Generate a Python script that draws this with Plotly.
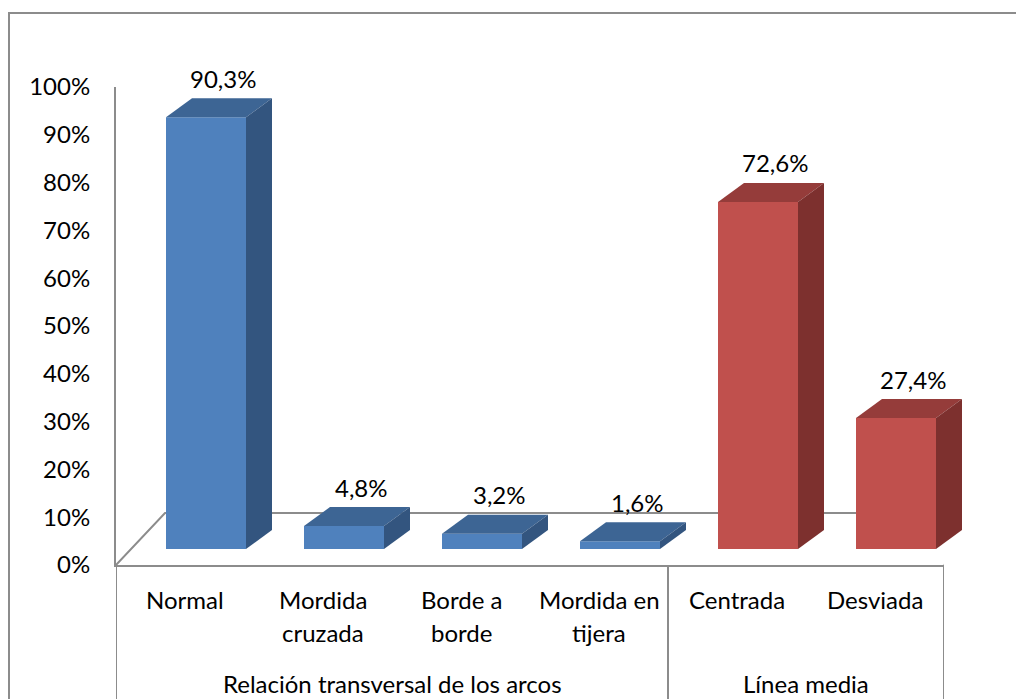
import plotly.graph_objects as go

# ---- data ----
categories = ["Normal", "Mordida<br>cruzada", "Borde a<br>borde", "Mordida en<br>tijera", "Centrada", "Desviada"]
groups = ["Relación transversal de los arcos", "Línea media"]
group_sizes = [4, 2]
values = [90.3, 4.8, 3.2, 1.6, 72.6, 27.4]
value_labels = ["90,3%", "4,8%", "3,2%", "1,6%", "72,6%", "27,4%"]
y_ticks = [0, 10, 20, 30, 40, 50, 60, 70, 80, 90, 100]
y_tick_labels = ["0%", "10%", "20%", "30%", "40%", "50%", "60%", "70%", "80%", "90%", "100%"]

# ---- styling / layout helpers ----
W, H = 1024, 699
OX, OY = 8, 8          # page offset of the figure (browser body margin)
FONT = "Lato"
FS = 24
front_colors = {0: "#4F81BD", 1: "#C0504D"}
top_colors = {0: "#3D6594", 1: "#953C3A"}
side_colors = {0: "#33557F", 1: "#7D302E"}
line_col = "#8C8C8C"

def px(x):
    return (x - OX) / W

def py(y):
    return 1 - (y - OY) / H

slot_px = (944 - 116) / 6.0
per_pct_px = (565 - 87) / 100.0
bar_w = 80 / slot_px
ddx = 26 / slot_px          # depth offset in category units
ddy = 19 / per_pct_px       # depth offset in % units

group_index = []
for g, n in enumerate(group_sizes):
    group_index += [g] * n

xs = list(range(len(categories)))
n = len(categories)

fig = go.Figure()
fig.add_trace(go.Bar(
    x=xs, y=values, xaxis="x2", yaxis="y2", width=bar_w,
    marker=dict(color=[front_colors[g] for g in group_index], line=dict(width=0)),
    hoverinfo="skip", showlegend=False,
))
fig.add_trace(go.Scatter(x=[xs[0]], y=[0], xaxis="x", yaxis="y", mode="markers",
                         marker=dict(opacity=0), hoverinfo="skip", showlegend=False))

shapes = []
annotations = []
for i, (v, g) in enumerate(zip(values, group_index)):
    x0, x1 = i - bar_w / 2, i + bar_w / 2
    top = f"M {x0},{v} L {x0+ddx},{v+ddy} L {x1+ddx},{v+ddy} L {x1},{v} Z"
    side = f"M {x1},0 L {x1+ddx},{ddy} L {x1+ddx},{v+ddy} L {x1},{v} Z"
    shapes.append(dict(type="path", path=top, xref="x2", yref="y2",
                       fillcolor=top_colors[g], line=dict(width=0), layer="above"))
    shapes.append(dict(type="path", path=side, xref="x2", yref="y2",
                       fillcolor=side_colors[g], line=dict(width=0), layer="above"))
    annotations.append(dict(x=i + ddx / 2, y=v + ddy, xref="x2", yref="y2",
                            text=value_labels[i], showarrow=False, yanchor="middle",
                            xshift=4, yshift=20, font=dict(family=FONT, size=FS, color="#000")))

# floor (parallelogram)
fb = (565 - 513) / per_pct_px
fl = (165 - 116) / slot_px - 0.5
fr = (1012 - 116) / slot_px - 0.5
shapes.append(dict(type="path", xref="x", yref="y", layer="below",
                   path=f"M -0.5,0 L {fl},{fb} L {fr},{fb} L {n-0.5},0",
                   line=dict(color=line_col, width=2)))

# category table dividers
edges = [-0.5]
acc = -0.5
for s in group_sizes:
    acc += s
    edges.append(acc)
for e in edges:
    shapes.append(dict(type="line", xref="x", yref="paper", x0=e, x1=e,
                       y0=-0.05, y1=py(565), line=dict(color=line_col, width=2)))

# outer chart border
shapes.append(dict(type="rect", xref="paper", yref="paper", x0=px(9), x1=1.05,
                   y0=-0.05, y1=py(13), line=dict(color=line_col, width=2)))

# category labels
for i, c in enumerate(categories):
    for k, part in enumerate(c.split("<br>")):
        annotations.append(dict(x=i, y=py(599 + 33 * k), xref="x", yref="paper",
                                text=part, showarrow=False, yanchor="middle",
                                font=dict(family=FONT, size=FS, color="#000")))
# group labels
start = -0.5
for gname, s in zip(groups, group_sizes):
    annotations.append(dict(x=start + s / 2, y=py(683), xref="x", yref="paper",
                            text=gname, showarrow=False, yanchor="middle",
                            font=dict(family=FONT, size=FS, color="#000")))
    start += s

fig.update_layout(
    template="none",
    width=W, height=H,
    margin=dict(l=0, r=0, t=0, b=0, pad=0),
    paper_bgcolor="white", plot_bgcolor="rgba(0,0,0,0)",
    font=dict(family=FONT, size=FS, color="#000"),
    xaxis=dict(domain=[px(116), px(944)], range=[-0.5, n - 0.5], anchor="y",
               showline=True, linecolor=line_col, linewidth=2, showgrid=False,
               zeroline=False, showticklabels=False, ticks="", automargin=False),
    yaxis=dict(domain=[py(565), py(87)], range=[0, 100], anchor="x",
               showline=True, linecolor=line_col, linewidth=2, showgrid=False,
               zeroline=False, tickvals=y_ticks, ticktext=y_tick_labels, ticks="",
               ticklabelstandoff=19, automargin=False,
               tickfont=dict(family=FONT, size=FS, color="#000")),
    xaxis2=dict(domain=[px(137), px(965)], range=[-0.5, n - 0.5], anchor="y2",
                visible=False, automargin=False),
    yaxis2=dict(domain=[py(549), py(71)], range=[0, 100], anchor="x2", visible=False,
                automargin=False),
    shapes=shapes,
    annotations=annotations,
)

fig.write_html("out.html")
